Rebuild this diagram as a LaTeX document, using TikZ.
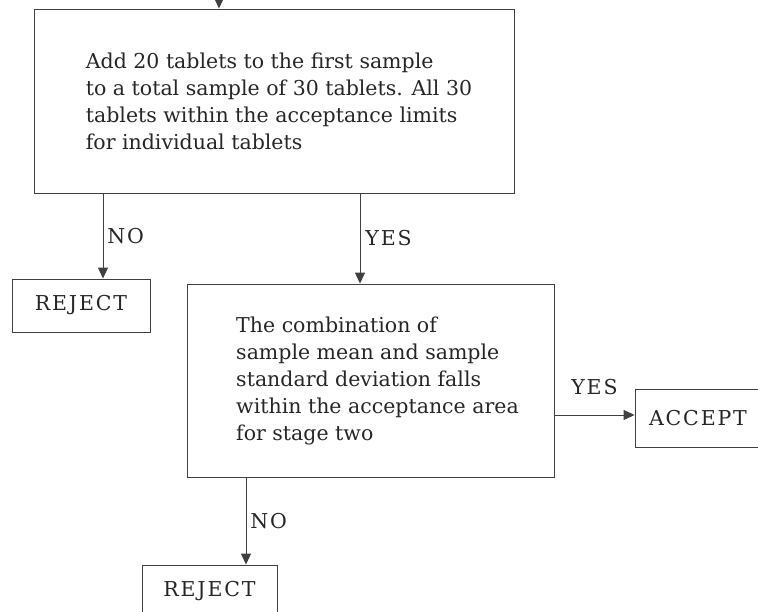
\documentclass[tikz,border=0pt]{standalone}
\usepackage{fontspec}
\setmainfont{DejaVu Serif}
\newfontfamily\capsfont[LetterSpace=9]{DejaVu Serif}
\usetikzlibrary{arrows.meta}

\begin{document}
\begin{tikzpicture}[x=1pt, y=-1pt,
        box/.style={draw=black!75, line width=0.9pt, inner sep=0pt, align=left, text=black!85, font=\fontsize{20.5}{27}\selectfont},
        endbox/.style={box, font=\capsfont\fontsize{20.5}{27}\selectfont},
        flow/.style={draw=black!75, line width=0.9pt, -{Triangle[length=11pt,width=10pt]}},
        lbl/.style={inner sep=0pt, text=black!85, font=\capsfont\fontsize{20.5}{24}\selectfont}]
        \useasboundingbox (0,0) rectangle (758,611);
        \node [box, minimum width=480pt, minimum height=184pt] (test1) at (274,101) {\hspace*{10pt}Add 20 tablets to the first sample\\\hspace*{10pt}to a total sample of 30 tablets. All 30\\\hspace*{10pt}tablets within the acceptance limits\\\hspace*{10pt}for individual tablets};
        \node [endbox, minimum width=138pt, minimum height=53pt] (rej1) at (81,305.5) {REJECT};
        \node [box, minimum width=367pt, minimum height=193pt] (test2) at (370.5,380.5) {\hspace*{14pt}The combination of\\\hspace*{14pt}sample mean and sample\\\hspace*{14pt}standard deviation falls\\\hspace*{14pt}within the acceptance area\\\hspace*{14pt}for stage two};
        \node [endbox, minimum width=126pt, minimum height=58pt] (acc) at (698,418) {ACCEPT};
        \node [endbox, minimum width=135pt, minimum height=53pt] (rej2) at (209.5,591.5) {REJECT};
        \coordinate (in) at (219,-4);
        \coordinate (no1) at (103,0);
        \coordinate (yes1) at (360,0);
        \coordinate (no2) at (246,0);
        \coordinate (yes2) at (0,415);
        \draw [flow] (in) -- (test1.north -| in);
        \draw [flow] (test1.south -| no1) -- node [lbl, right=4pt] {NO} (rej1.north -| no1);
        \draw [flow] (test1.south -| yes1) -- node [lbl, right=5pt] {YES} (test2.north -| yes1);
        \draw [flow] (test2.east |- yes2) -- node [lbl, above=20pt] {YES} (acc.west |- yes2);
        \draw [flow] (test2.south -| no2) -- node [lbl, right=4pt] {NO} (rej2.north -| no2);
    \end{tikzpicture}
\end{document}
